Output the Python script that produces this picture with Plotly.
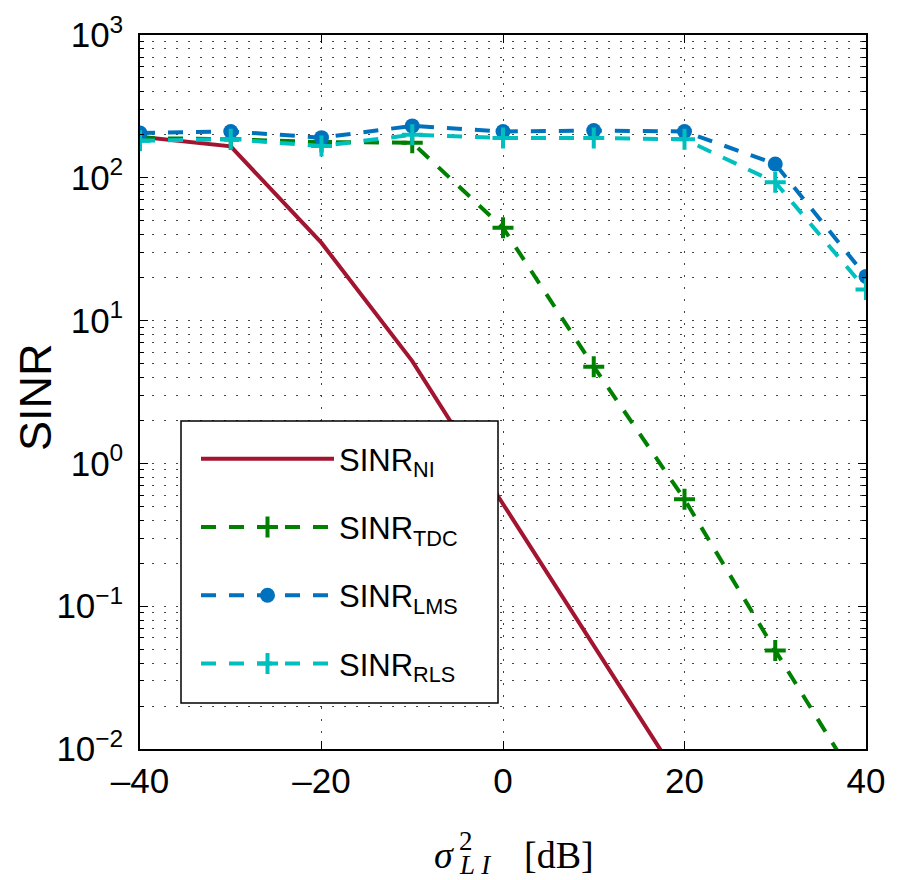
import plotly.graph_objects as go

# ---- data ----
x_db = [-40, -30, -20, -10, 0, 10, 20, 30, 40]
sinr_ni = [194, 166, 35, 5.2, 0.52, 0.054, 0.0054]
sinr_tdc = [190, 186, 178, 176, 44.7, 4.76, 0.56, 0.049, 0.0046]
sinr_lms = [206, 211, 191, 231, 211, 214, 211, 125, 20.4]
sinr_rls = [182, 186, 167, 200, 190, 190, 186, 93, 16.5]

x_tickvals = [-40, -20, 0, 20, 40]
x_ticktext = ["–40", "–20", "0", "20", "40"]
y_tickvals = [0.01, 0.1, 1, 10, 100, 1000]
y_ticktext = ["10<sup>−2</sup>", "10<sup>−1</sup>", "10<sup>0</sup>",
              "10<sup>1</sup>", "10<sup>2</sup>", "10<sup>3</sup>"]
y_minor = [m * 10.0 ** e for e in range(-2, 3) for m in range(2, 10)]

C_NI, C_TDC, C_LMS, C_RLS = "#A2142F", "#008000", "#0072BD", "#00BFBF"
DASH = "15px,13px"
FONT = "Liberation Sans, Arial, sans-serif"
SERIF = "Liberation Serif, DejaVu Serif, serif"

fig = go.Figure()
fig.add_trace(go.Scatter(x=x_db[:len(sinr_ni)], y=sinr_ni, mode="lines",
                         name="SINR<sub>NI</sub>", legendgroup="a",
                         line=dict(color=C_NI, width=4)))
fig.add_trace(go.Scatter(x=x_db, y=sinr_tdc, mode="lines+markers",
                         name="SINR<sub>TDC</sub>", legendgroup="b",
                         line=dict(color=C_TDC, width=4, dash=DASH),
                         marker=dict(symbol="cross-thin", size=15,
                                     line=dict(color=C_TDC, width=4))))
fig.add_trace(go.Scatter(x=x_db, y=sinr_lms, mode="lines+markers",
                         name="SINR<sub>LMS</sub>", legendgroup="c",
                         line=dict(color=C_LMS, width=4, dash=DASH),
                         marker=dict(symbol="circle", size=15, color=C_LMS)))
fig.add_trace(go.Scatter(x=x_db, y=sinr_rls, mode="lines+markers",
                         name="SINR<sub>RLS</sub>", legendgroup="d",
                         line=dict(color=C_RLS, width=4, dash=DASH),
                         marker=dict(symbol="cross-thin", size=15,
                                     line=dict(color=C_RLS, width=4))))

OFF = 8  # page body margin
W, H = 897 - OFF, 880 - OFF
PL, PT, PR, PB = 140, 35, 866, 749  # plot area in screen pixels
L, T = PL - OFF, PT - OFF
PW, PH = PR - PL, PB - PT
R, B = W - L - PW, H - T - PH


def px(sx):
    return (sx - PL) / PW


def py(sy):
    return (PB - sy) / PH


GRID = dict(showgrid=True, gridcolor="#444", gridwidth=1, griddash="2px,10px")

fig.update_layout(
    width=W, height=H,
    margin=dict(l=L, r=R, t=T, b=B, autoexpand=False),
    paper_bgcolor="white", plot_bgcolor="white",
    font=dict(family=FONT, size=35, color="black"),
    showlegend=True,
    legend=dict(x=px(196), y=py(432), xanchor="left", yanchor="top",
                bgcolor="rgba(0,0,0,0)", borderwidth=0,
                font=dict(family=FONT, size=31, color="black"),
                itemwidth=133, tracegroupgap=25, traceorder="grouped"),
    xaxis=dict(range=[-40, 40], tickmode="array", tickvals=x_tickvals,
               ticktext=x_ticktext, ticks="inside", ticklen=8, tickwidth=1.2,
               tickcolor="black", showline=True, linecolor="black",
               linewidth=1.5, mirror="ticks", zeroline=False,
               tickfont=dict(family=FONT, size=35), **GRID),
    yaxis=dict(type="log", range=[-2, 3], tickmode="array",
               tickvals=y_tickvals, ticktext=y_ticktext, ticks="inside",
               ticklen=8, tickwidth=1.2, tickcolor="black", showline=True,
               linecolor="black", linewidth=1.5, mirror="ticks",
               zeroline=False, tickfont=dict(family=FONT, size=35),
               ticklabelstandoff=8,
               minor=dict(tickmode="array", tickvals=y_minor, ticks="inside",
                          ticklen=4, tickcolor="black", **GRID),
               **GRID),
)

# legend frame
fig.add_shape(type="rect", xref="paper", yref="paper", layer="above",
              x0=px(181), x1=px(498), y0=py(703), y1=py(421),
              fillcolor="white", line=dict(color="black", width=1.5))

ann = [
    dict(text="SINR", x=px(35), y=py(397), textangle=-90,
         font=dict(family=FONT, size=45)),
    dict(text="<i>σ</i>", x=px(444), y=py(855), font=dict(family=SERIF, size=38)),
    dict(text="2", x=px(466), y=py(841), font=dict(family=SERIF, size=27)),
    dict(text="<i>L I</i>", x=px(475), y=py(865), font=dict(family=SERIF, size=27)),
    dict(text="[dB]", x=px(559), y=py(855), font=dict(family=SERIF, size=38)),
]
for a in ann:
    fig.add_annotation(xref="paper", yref="paper", showarrow=False,
                       xanchor="center", yanchor="middle", **a)

fig.write_html("out.html")
